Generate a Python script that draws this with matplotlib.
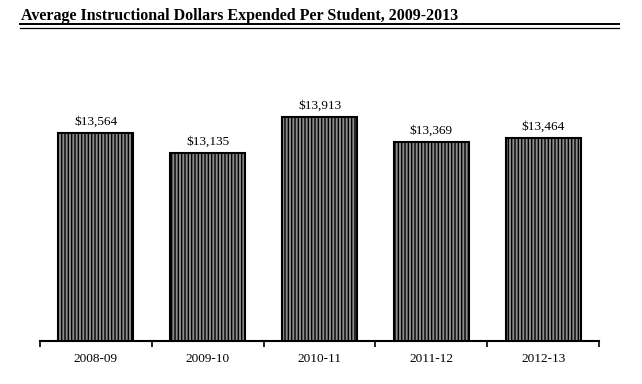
import matplotlib
matplotlib.use("Agg")
import matplotlib.pyplot as plt
from matplotlib.lines import Line2D

# Data
years = ["2008-09", "2009-10", "2010-11", "2011-12", "2012-13"]
dollars = [13564, 13135, 13913, 13369, 13464]

plt.rcParams["font.family"] = ["Liberation Serif", "DejaVu Serif"]
plt.rcParams["hatch.color"] = "#222222"
plt.rcParams["hatch.linewidth"] = 1.0

fig = plt.figure(figsize=(6.42, 3.84), dpi=100)
ax = fig.add_axes([40 / 642, 1 - 341 / 384, 559 / 642, 273 / 384])

x = list(range(len(years)))
ax.bar(x, dollars, width=0.67, bottom=0, color="#8c8c8c",
       edgecolor="black", linewidth=1.5, hatch="|||||")

for xi, v in zip(x, dollars):
    ax.text(xi, v + 120, f"${v:,}", ha="center", va="bottom", fontsize=9.5)

ax.set_xlim(-0.5, len(years) - 0.5)
ax.set_ylim(9000, 15000)
ax.set_xticks([i + 0.5 for i in range(-1, len(years))])
ax.set_xticklabels([])
ax.set_xticks(x, minor=True)
ax.set_xticklabels(years, minor=True, fontsize=9.5)
ax.tick_params(axis="x", which="major", direction="out", length=4, width=1.2)
ax.tick_params(axis="x", which="minor", length=0, pad=9)
ax.set_yticks([])
for side in ["left", "right", "top"]:
    ax.spines[side].set_visible(False)
ax.spines["bottom"].set_linewidth(1.5)

# Title with double rule underneath
fig.text(21 / 642, 1 - 20 / 384, "Average Instructional Dollars Expended Per Student, 2009-2013",
         ha="left", va="baseline", fontsize=11.5, fontweight="bold")
fig.add_artist(Line2D([20 / 642, 619 / 642], [1 - 24.0 / 384] * 2, color="black", linewidth=1.4))
fig.add_artist(Line2D([20 / 642, 619 / 642], [1 - 27.5 / 384] * 2, color="black", linewidth=0.9))

fig.savefig("out.png", dpi=100)
